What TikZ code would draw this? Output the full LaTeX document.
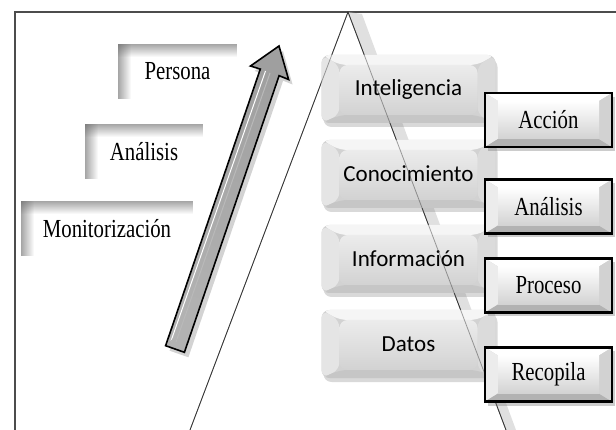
\documentclass[tikz,border=0pt]{standalone}
\usepackage{fontspec}
\usepackage{graphicx}
\newfontfamily\serifbox{Liberation Serif}
\newfontfamily\sansbox{Carlito}
\newcommand\condtext[1]{\scalebox{0.8}[1]{\serifbox\fontsize{26}{28}\selectfont #1}}
\usetikzlibrary{shadows}

\begin{document}
\begin{tikzpicture}[x=1pt,y=-1pt,
    whitebox/.style={fill=white, minimum height=55pt, inner sep=0pt,
      path picture={
        \foreach \i [evaluate=\i as \op using 0.045*(13-\i)] in {0,...,12} {
          \fill[gray!80!black, opacity=\op]
            ([xshift=\i pt]path picture bounding box.north west) rectangle ([xshift=\i pt+1pt]path picture bounding box.south west);
          \fill[gray!80!black, opacity=\op]
            ([yshift=-\i pt]path picture bounding box.north west) rectangle ([yshift=-\i pt-1pt]path picture bounding box.north east);
        }
      }},
    greybox/.style={rounded corners=8pt, minimum width=174pt, minimum height=68pt, inner sep=0pt,
      fill=gray!35, drop shadow={opacity=0.3, shadow xshift=2pt, shadow yshift=-4pt},
      font=\sansbox\fontsize{23}{25}\selectfont,
      path picture={
        \fill[gray!8] (path picture bounding box.north west) -- (path picture bounding box.north east)
          -- ([xshift=-18pt,yshift=-10pt]path picture bounding box.north east)
          -- ([xshift=18pt,yshift=-10pt]path picture bounding box.north west) -- cycle;
        \fill[gray!20] (path picture bounding box.north west) -- ([xshift=18pt,yshift=-10pt]path picture bounding box.north west)
          -- ([xshift=18pt,yshift=8pt]path picture bounding box.south west) -- (path picture bounding box.south west) -- cycle;
        \fill[gray!45] (path picture bounding box.south west) -- ([xshift=18pt,yshift=8pt]path picture bounding box.south west)
          -- ([xshift=-18pt,yshift=8pt]path picture bounding box.south east) -- (path picture bounding box.south east) -- cycle;
        \fill[gray!28] (path picture bounding box.north east) -- ([xshift=-18pt,yshift=-10pt]path picture bounding box.north east)
          -- ([xshift=-18pt,yshift=8pt]path picture bounding box.south east) -- (path picture bounding box.south east) -- cycle;
        \shade[top color=gray!15, bottom color=gray!35]
          ([xshift=18pt,yshift=-10pt]path picture bounding box.north west) rectangle ([xshift=-18pt,yshift=8pt]path picture bounding box.south east);
      }},
    framebox/.style={draw=black, line width=2.5pt, minimum width=127pt, minimum height=54pt, inner sep=0pt,
      fill=gray!40, drop shadow={opacity=0.4, shadow xshift=3pt, shadow yshift=-4pt},
      path picture={
        \fill[white] (path picture bounding box.north west) -- (path picture bounding box.north east)
          -- ([xshift=-13pt,yshift=-8pt]path picture bounding box.north east)
          -- ([xshift=13pt,yshift=-8pt]path picture bounding box.north west) -- cycle;
        \fill[gray!15] (path picture bounding box.north west) -- ([xshift=13pt,yshift=-8pt]path picture bounding box.north west)
          -- ([xshift=13pt,yshift=8pt]path picture bounding box.south west) -- (path picture bounding box.south west) -- cycle;
        \fill[gray!60] (path picture bounding box.south west) -- ([xshift=13pt,yshift=8pt]path picture bounding box.south west)
          -- ([xshift=-13pt,yshift=8pt]path picture bounding box.south east) -- (path picture bounding box.south east) -- cycle;
        \fill[gray!35] (path picture bounding box.north east) -- ([xshift=-13pt,yshift=-8pt]path picture bounding box.north east)
          -- ([xshift=-13pt,yshift=8pt]path picture bounding box.south east) -- (path picture bounding box.south east) -- cycle;
        \shade[top color=white, bottom color=gray!35]
          ([xshift=13pt,yshift=-8pt]path picture bounding box.north west) rectangle ([xshift=-13pt,yshift=8pt]path picture bounding box.south east);
      }}]
  \useasboundingbox (0,0) rectangle (616,430);

  % frame
  \coordinate (frameBL) at (15,430);
  \coordinate (frameTL) at (15,12);
  \coordinate (frameTR) at (616,12);
  \draw[gray!60!black, line width=1.5pt] (frameBL) -- (frameTL) -- (frameTR);

  % triangle
  \coordinate (apex) at (348,12);
  \coordinate (baseL) at (190,430);
  \coordinate (baseR) at (506,430);
  \fill[gray!40, opacity=0.6] (apex) -- (baseR) -- ++(10,0) -- (362,14) -- cycle;
  \draw[gray!40!black, line width=0.8pt] (apex) -- (baseL);
  \draw[gray!40!black, line width=0.8pt] (apex) -- (baseR);

  % arrow
  \coordinate (tail) at (175,349);
  \coordinate (tip) at (279,46);
  \shade[left color=gray!75, middle color=white, right color=gray!60, shading angle=-19,
         draw=black, line width=1.6pt, line join=miter,
         drop shadow={opacity=0.35, shadow xshift=4pt, shadow yshift=-5pt}]
    (165.6,345.7) -- (260.3,69.1) -- (250.5,66) -- (tip) -- (288.6,79.5) -- (279.1,75.7) -- (184.4,352.3) -- cycle;
  \draw[gray!55, line width=1pt] (176,342) -- (270,73);
  \draw[white, line width=1pt] (171,341) -- (265.5,71);
  \draw[gray!60, line width=0.8pt] (168,344) -- (174,338) -- (181,341) -- (183,350);

  % left
  \node[whitebox, minimum width=119pt] (persona) at (177.5,71.5) {\condtext{Persona}};
  \node[whitebox, minimum width=118pt] (analisisL) at (144,151.5) {\condtext{Análisis}};
  \node[whitebox, minimum width=172pt] (monitor) at (107,229) {\condtext{Monitorización}};

  % pyramid levels
  \node[greybox] (inteligencia) at (408.5,89) {Inteligencia};
  \node[greybox] (conocimiento) at (408.5,174) {Conocimiento};
  \node[greybox] (informacion) at (408.5,259) {Información};
  \node[greybox] (datos) at (408.5,344) {Datos};
  \draw[gray!40!black, line width=0.8pt, opacity=0.45] (apex) -- (baseL);
  \draw[gray!40!black, line width=0.8pt, opacity=0.45] (apex) -- (baseR);

  % right
  \node[framebox] (accion) at (548.5,120) {\condtext{Acción}};
  \node[framebox] (analisisR) at (548.5,206.5) {\condtext{Análisis}};
  \node[framebox] (proceso) at (548.5,285.5) {\condtext{Proceso}};
  \node[framebox] (recopila) at (548.5,374.5) {\condtext{Recopila}};
\end{tikzpicture}
\end{document}
